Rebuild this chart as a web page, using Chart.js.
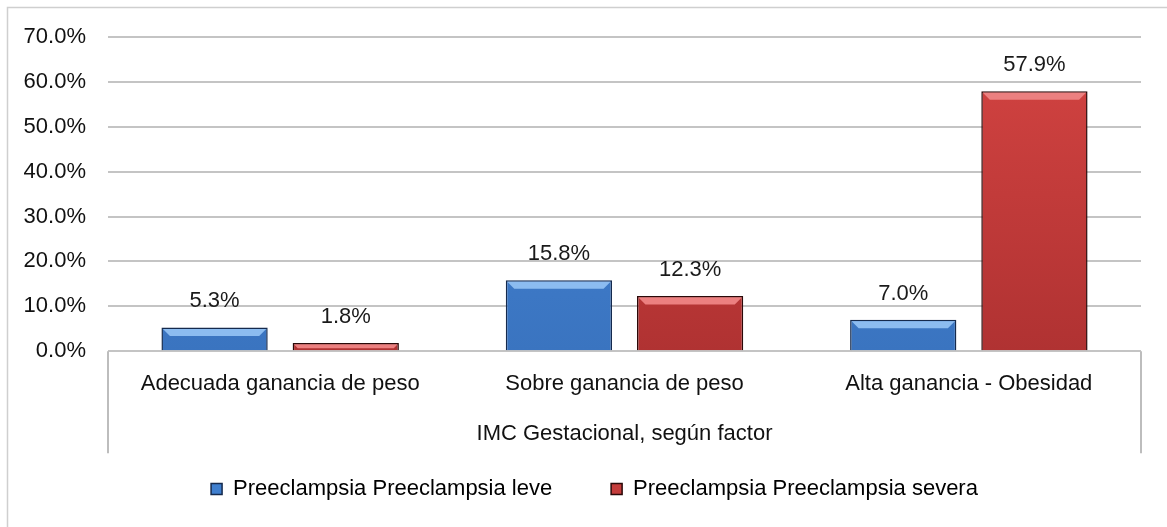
<!DOCTYPE html>
<html>
<head>
<meta charset="utf-8">
<script src="https://cdn.jsdelivr.net/npm/chart.js@4.4.1/dist/chart.umd.min.js"></script>
<style>
    html, body { margin: 0; padding: 0; background: #fff; }
    #wrap { width: 1167px; height: 527px; position: relative; }
</style>
</head>
<body>
<div id="wrap"><canvas id="imcChart"></canvas></div>
<script>
// data
const categories = ["Adecuada ganancia de peso", "Sobre ganancia de peso", "Alta ganancia - Obesidad"];
const leveValues = [5.3, 15.8, 7.0];
const severaValues = [1.8, 12.3, 57.9];
const seriesNames = ["Preeclampsia Preeclampsia leve", "Preeclampsia Preeclampsia severa"];
const yTicks = [0, 10, 20, 30, 40, 50, 60, 70];
const axisTitle = "IMC Gestacional, según factor";

const FONT = '"Liberation Sans", Arial, sans-serif';
const SIZE = 22;

// bevel highlight on top of each bar + value labels
const barDecor = {
    id: "barDecor",
    afterDatasetsDraw(chart) {
        const ctx = chart.ctx;
        const bevels = ["#8cbcf0", "#ec8080"];
        chart.data.datasets.forEach((ds, i) => {
            const meta = chart.getDatasetMeta(i);
            meta.data.forEach((bar, j) => {
                const left = bar.x - bar.width / 2 + 1.5;
                const right = bar.x + bar.width / 2 - 1.5;
                const top = bar.y + 1.5;
                const h = Math.min(7, (bar.base - bar.y) / 2);
                ctx.save();
                ctx.fillStyle = bevels[i];
                ctx.beginPath();
                ctx.moveTo(left, top);
                ctx.lineTo(right, top);
                ctx.lineTo(right - h, top + h);
                ctx.lineTo(left + h, top + h);
                ctx.closePath();
                ctx.fill();
                ctx.restore();

                ctx.save();
                ctx.font = SIZE + "px " + FONT;
                ctx.fillStyle = "#1a1a1a";
                ctx.textAlign = "center";
                ctx.textBaseline = "middle";
                ctx.fillText(ds.data[j].toFixed(1) + "%", bar.x, bar.y - 26);
                ctx.restore();
            });
        });
    }
};

// outer frame and the vertical lines of the category axis
const frame = {
    id: "frame",
    afterLayout(chart) {
        // legend sits a bit right of the canvas centre in the original
        chart.legend.left += 12;
        chart.legend.right += 12;
    },
    afterDraw(chart) {
        const ctx = chart.ctx;
        const area = chart.chartArea;
        ctx.save();
        ctx.strokeStyle = "#cfcfcf";
        ctx.lineWidth = 1.5;
        ctx.beginPath();
        ctx.moveTo(7.5, 527);
        ctx.lineTo(7.5, 7.5);
        ctx.lineTo(1167, 7.5);
        ctx.stroke();

        ctx.strokeStyle = "#bdbdbd";
        ctx.lineWidth = 2;
        ctx.beginPath();
        ctx.moveTo(area.left, area.bottom);
        ctx.lineTo(area.left, area.bottom + 102);
        ctx.moveTo(area.right, area.bottom);
        ctx.lineTo(area.right, area.bottom + 102);
        ctx.stroke();
        ctx.restore();
    }
};

function barGradient(ctx, light, dark) {
    const chart = ctx.chart;
    const area = chart.chartArea;
    if (!area) return light;
    const g = chart.ctx.createLinearGradient(0, area.top, 0, area.bottom);
    g.addColorStop(0, light);
    g.addColorStop(1, dark);
    return g;
}

new Chart(document.getElementById("imcChart"), {
    type: "bar",
    data: {
        labels: categories,
        datasets: [{
            label: seriesNames[0],
            data: leveValues,
            backgroundColor: ctx => barGradient(ctx, "#4585d6", "#3a74c0"),
            borderColor: "#152a4d",
            borderWidth: 1.5,
            barPercentage: 0.81,
            categoryPercentage: 0.762
        }, {
            label: seriesNames[1],
            data: severaValues,
            backgroundColor: ctx => barGradient(ctx, "#d44442", "#b03232"),
            borderColor: "#2a0909",
            borderWidth: 1.5,
            barPercentage: 0.81,
            categoryPercentage: 0.762
        }]
    },
    options: {
        responsive: true,
        maintainAspectRatio: false,
        animation: false,
        layout: {
            padding: { top: 37, right: 26, bottom: 17, left: 24 }
        },
        plugins: {
            tooltip: { enabled: false },
            legend: {
                position: "bottom",
                labels: {
                    font: { family: FONT, size: SIZE },
                    color: "#111",
                    boxWidth: 11,
                    boxHeight: 11,
                    padding: 10,
                    // extra trailing gap after the first entry, like the original legend
                    generateLabels: chart => chart.data.datasets.map((ds, i) => ({
                        text: i === 0 ? ds.label + "\u00a0".repeat(8) : ds.label,
                        fillStyle: ["#3f7fcf", "#c43c3b"][i],
                        strokeStyle: ["#152a4d", "#2a0909"][i],
                        lineWidth: 1.5,
                        datasetIndex: i
                    }))
                }
            }
        },
        scales: {
            x: {
                grid: { display: false, drawTicks: false },
                border: { display: false },
                ticks: {
                    font: { family: FONT, size: SIZE },
                    color: "#111",
                    padding: 20,
                    maxRotation: 0,
                    minRotation: 0,
                    autoSkip: false
                },
                title: {
                    display: true,
                    text: axisTitle,
                    font: { family: FONT, size: SIZE },
                    color: "#111",
                    padding: { top: 3, bottom: 21 }
                }
            },
            y: {
                min: 0,
                max: 70,
                afterBuildTicks: scale => {
                    scale.ticks = yTicks.map(v => ({ value: v }));
                },
                afterFit: scale => {
                    scale.width = 84;
                },
                grid: { color: "#c4c4c4", lineWidth: 2, drawTicks: false },
                border: { display: false },
                ticks: {
                    font: { family: FONT, size: SIZE },
                    color: "#111",
                    padding: 22,
                    callback: v => v.toFixed(1) + "%"
                }
            }
        }
    },
    plugins: [barDecor, frame]
});
</script>
</body>
</html>
